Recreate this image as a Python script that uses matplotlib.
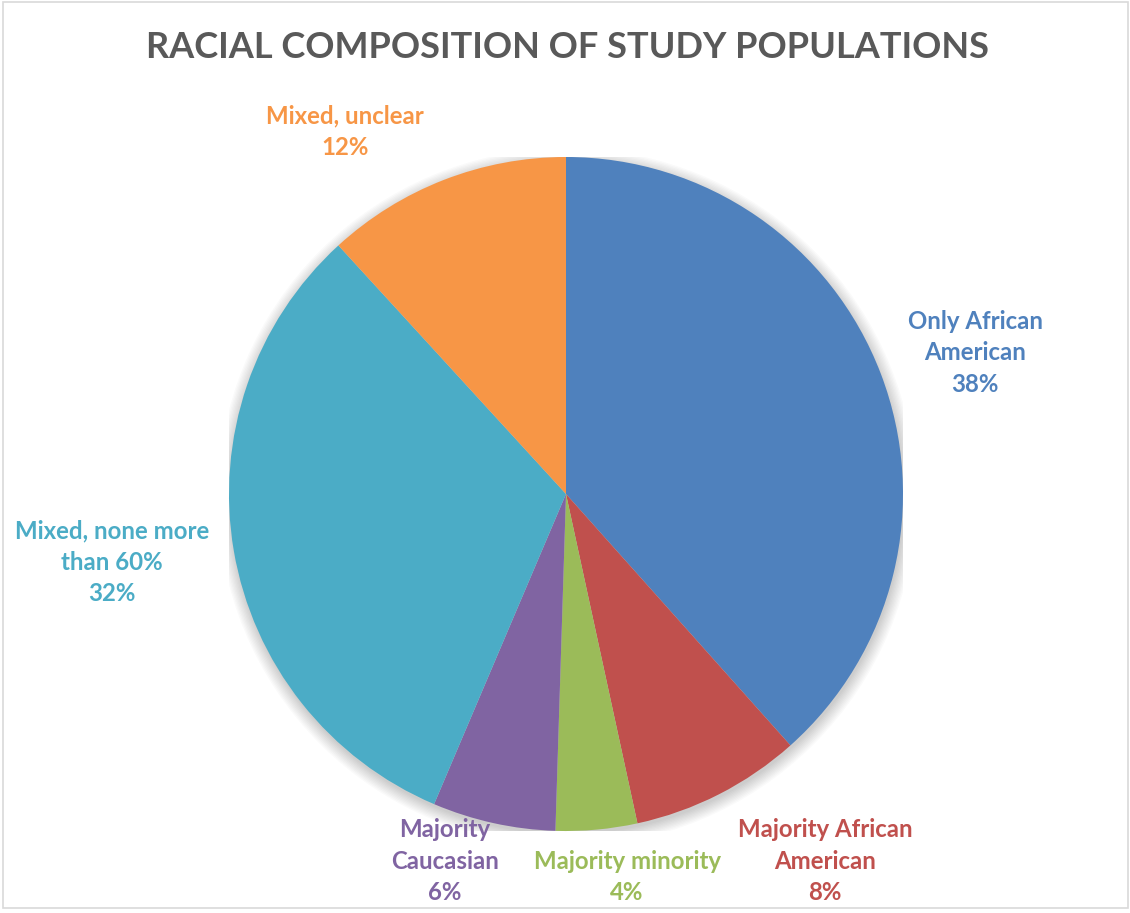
import matplotlib
matplotlib.use("Agg")
import matplotlib.pyplot as plt
from matplotlib.patches import Rectangle, Circle

categories = ["Only African\nAmerican", "Majority African\nAmerican", "Majority minority",
              "Majority\nCaucasian", "Mixed, none more\nthan 60%", "Mixed, unclear"]
values = [38.4, 8.2, 3.9, 5.9, 31.8, 11.8]
colors = ["#4F81BD", "#C0504D", "#9BBB59", "#8064A2", "#4BACC6", "#F79646"]
title = "RACIAL COMPOSITION OF STUDY POPULATIONS"

W, H = 1130, 913
fig = plt.figure(figsize=(W / 100, H / 100), dpi=100)
FONT = ["Lato", "DejaVu Sans"]

# border
fig.patches.append(Rectangle((3 / W, 1 - 908 / H), 1125 / W, 906 / H, transform=fig.transFigure,
                             fill=False, edgecolor="#D9D9D9", linewidth=1.2))

cx, cy, r = 566, 494, 337
ax = fig.add_axes([(cx - r) / W, (H - cy - r) / H, 2 * r / W, 2 * r / H])
ax.axis("off")

# soft shadow
for i in range(10):
    ax.add_patch(Circle((0.003, -0.01), 1.0 + 0.004 * i, color="black", alpha=0.02, lw=0, zorder=0))

wedges, _ = ax.pie(values, colors=colors, startangle=90, counterclock=False, radius=1.0,
                   wedgeprops=dict(linewidth=0))
for w in wedges:
    w.set_zorder(2)
ax.set_xlim(-1, 1)
ax.set_ylim(-1, 1)
ax.set_aspect("equal")

fig.text(567 / W, 1 - 47 / H, title, ha="center", va="center", fontsize=26, fontweight="bold",
         color="#595959", family=FONT)

label_pos = [(975, 353), (825, 861), (627, 877), (445, 861), (112, 562), (345, 132)]
for cat, v, col, (x, y) in zip(categories, values, colors, label_pos):
    fig.text(x / W, 1 - y / H, f"{cat}\n{v:.0f}%", ha="center", va="center", fontsize=17.3,
             fontweight="bold", color=col, family=FONT, linespacing=1.45)

fig.savefig("out.png", dpi=100)
